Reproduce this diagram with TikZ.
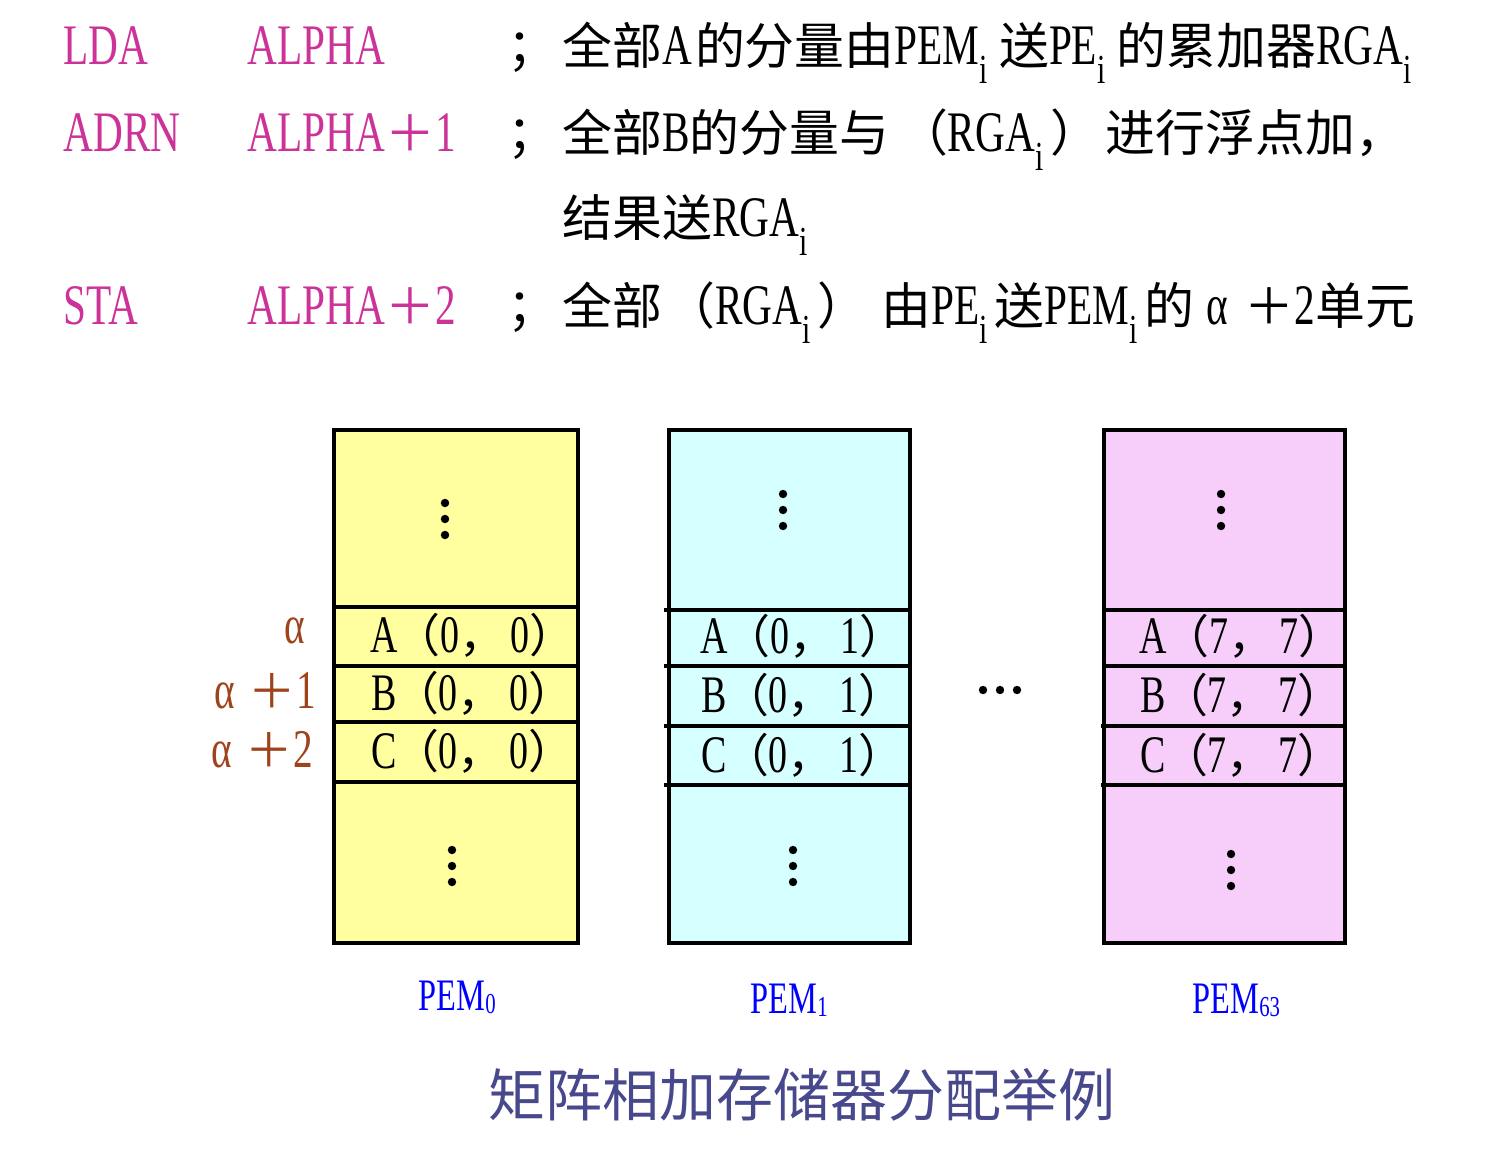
\documentclass[tikz,border=0pt]{standalone}
\usepackage{fontspec}
\usepackage{graphicx}
\setmainfont{Liberation Serif}[FakeStretch=0.72]
\newfontfamily\cjk{Noto Sans CJK SC}[Scale=0.87]
\newfontfamily\cjktitle{Noto Sans CJK SC}
\newcommand\zh[1]{{\cjk #1}}
\newcommand\lowi{\raisebox{-0.32em}{\scalebox{0.72}{i}}\kern0.12em}
\newcommand\pemsub[1]{\raisebox{-0.08em}{\fontsize{8.2pt}{9pt}\selectfont #1}}
\definecolor{mag}{RGB}{204,51,153}
\definecolor{brn}{RGB}{158,68,28}
\definecolor{yel}{RGB}{255,255,160}
\definecolor{cya}{RGB}{214,255,255}
\definecolor{pnk}{RGB}{247,205,250}
\definecolor{ttl}{RGB}{72,72,140}
\definecolor{pemblue}{RGB}{0,0,255}
\begin{document}
\begin{tikzpicture}[x=0.01cm,y=-0.01cm,
  big/.style={font=\fontsize{16.3pt}{19pt}\selectfont, inner sep=0pt, anchor=base west},
  cell/.style={font=\fontsize{15pt}{18pt}\selectfont, inner sep=0pt, anchor=base},
  addr/.style={font=\fontsize{15.5pt}{18pt}\selectfont, inner sep=0pt, anchor=base west, text=brn},
  pem/.style={font=\fontsize{12.8pt}{15pt}\selectfont, inner sep=0pt, anchor=base west, text=pemblue},
  mem/.style={line width=0.9pt, draw=black},
  sep/.style={line width=0.9pt},
  vdot/.style={fill=black}
]
\useasboundingbox (0,0) rectangle (1488,1152);

% instruction lines
\node[big, text=mag] (lda) at (63,65) {LDA};
\node[big, text=mag] (lda-op) at (247,65) {ALPHA};
\node[big] (sc1) at (507,65) {\zh{；}};
\node[big] (t1) at (562,65) {\zh{全部}A\kern0.05em\zh{的分量由}PEM\lowi\kern0.08em\zh{送}PE\lowi\kern0.08em\zh{的累加器}RGA\lowi};

\node[big, text=mag] (adrn) at (63,152) {ADRN};
\node[big, text=mag] (adrn-op) at (247,152) {ALPHA\zh{＋}1};
\node[big] (sc2) at (507,152) {\zh{；}};
\node[big] (t2) at (562,152) {\zh{全部}B\zh{的分量与}\kern0.15em\zh{（}RGA\lowi\zh{）}\kern0.1em\zh{进行浮点加，}};
\node[big] (t3) at (562,237) {\zh{结果送}RGA\lowi};

\node[big, text=mag] (sta) at (63,325) {STA};
\node[big, text=mag] (sta-op) at (247,325) {ALPHA\zh{＋}2};
\node[big] (sc4) at (507,325) {\zh{；}};
\node[big] (t4) at (562,325) {\zh{全部}\kern0.05em\zh{（}RGA\lowi\zh{）}\kern0.25em\zh{由}PE\lowi\zh{送}PEM\lowi\zh{的}\kern0.2em α\kern0.3em\zh{＋}2\zh{单元}};

% memory boxes
\filldraw[mem, fill=yel] (334,430) rectangle (578,943);
\draw[sep] (334,607) -- (578,607);
\draw[sep] (334,666) -- (578,666);
\draw[sep] (334,722) -- (578,722);
\draw[sep] (334,782) -- (578,782);

\filldraw[mem, fill=cya] (669,430) rectangle (910,943);
\draw[sep] (664,610) -- (910,610);
\draw[sep] (664,666) -- (910,666);
\draw[sep] (664,726) -- (910,726);
\draw[sep] (664,785) -- (910,785);

\filldraw[mem, fill=pnk] (1104,430) rectangle (1345,943);
\draw[sep] (1104,610) -- (1345,610);
\draw[sep] (1104,666) -- (1345,666);
\draw[sep] (1101,726) -- (1345,726);
\draw[sep] (1101,785) -- (1345,785);

% vertical ellipses
\foreach \y in {503,519,535} \fill[vdot] (445,\y) circle[radius=1.2pt];
\foreach \y in {850,866,882} \fill[vdot] (452,\y) circle[radius=1.2pt];
\foreach \y in {494,510,526} \fill[vdot] (783,\y) circle[radius=1.2pt];
\foreach \y in {850,866,882} \fill[vdot] (793,\y) circle[radius=1.2pt];
\foreach \y in {494,510,526} \fill[vdot] (1221,\y) circle[radius=1.2pt];
\foreach \y in {854,870,886} \fill[vdot] (1231,\y) circle[radius=1.2pt];
% horizontal ellipsis
\foreach \x in {983,1000,1017} \fill[vdot] (\x,690) circle[radius=1.2pt];

% cell contents
\node[cell] (a00) at (473,652) {A\kern-0.08em\zh{（}0\zh{，}\kern0.1em 0\zh{）}};
\node[cell] (b00) at (473,710) {B\kern-0.08em\zh{（}0\zh{，}\kern0.1em 0\zh{）}};
\node[cell] (c00) at (473,768) {C\kern-0.08em\zh{（}0\zh{，}\kern0.1em 0\zh{）}};
\node[cell] (a01) at (803,653) {A\kern-0.08em\zh{（}0\zh{，}\kern0.1em 1\zh{）}};
\node[cell] (b01) at (803,712) {B\kern-0.08em\zh{（}0\zh{，}\kern0.1em 1\zh{）}};
\node[cell] (c01) at (803,772) {C\kern-0.08em\zh{（}0\zh{，}\kern0.1em 1\zh{）}};
\node[cell] (a77) at (1242,653) {A\kern-0.08em\zh{（}7\zh{，}\kern0.1em 7\zh{）}};
\node[cell] (b77) at (1242,712) {B\kern-0.08em\zh{（}7\zh{，}\kern0.1em 7\zh{）}};
\node[cell] (c77) at (1242,772) {C\kern-0.08em\zh{（}7\zh{，}\kern0.1em 7\zh{）}};

% addresses
\node[addr] (al0) at (284,643) {α};
\node[addr] (al1) at (214,708) {α\kern0.25em\zh{＋}1};
\node[addr] (al2) at (211,767) {α\kern0.25em\zh{＋}2};

% PEM labels
\node[pem] (pem0) at (418,1010) {PEM\pemsub{0}};
\node[pem] (pem1) at (750,1013) {PEM\pemsub{1}};
\node[pem] (pem63) at (1192,1013) {PEM\pemsub{63}};

% caption
\node[font=\cjktitle\fontsize{16.2pt}{19pt}\selectfont, text=ttl, inner sep=0pt] (title) at (802,1095) {矩阵相加存储器分配举例};
\end{tikzpicture}
\end{document}
